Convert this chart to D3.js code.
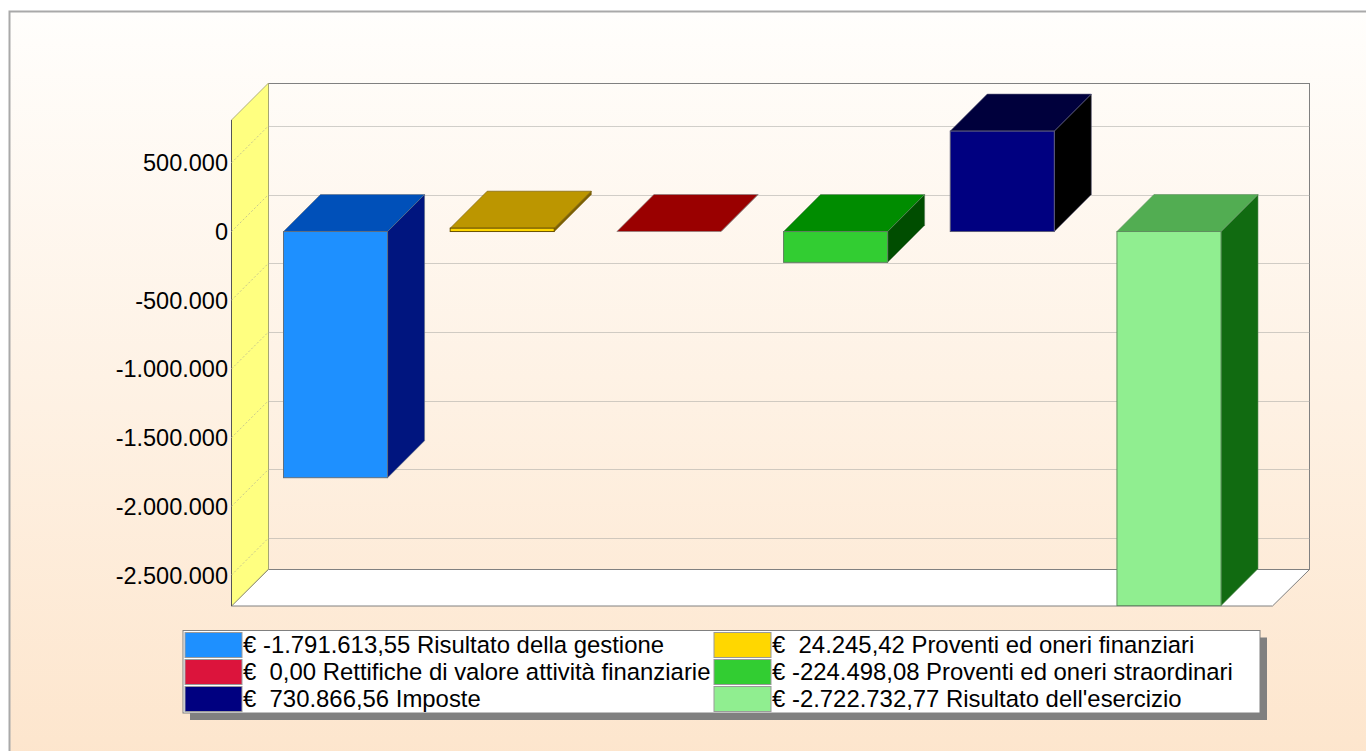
<!DOCTYPE html>
<html>
<head>
<meta charset="utf-8">
<style>
  html, body { margin: 0; padding: 0; background: #fff; overflow: hidden; }
  svg { display: block; }
  text { font-family: "Liberation Sans", Arial, sans-serif; fill: #000; white-space: pre; }
</style>
<script src="https://cdn.jsdelivr.net/npm/d3@7"></script>
</head>
<body>
<svg id="chart" width="1366" height="751"></svg>
<script>
'use strict';

const categories = [
  'Risultato della gestione',
  'Proventi ed oneri finanziari',
  'Rettifiche di valore attività finanziarie',
  'Proventi ed oneri straordinari',
  'Imposte',
  "Risultato dell'esercizio"
];
const values = [-1791613.55, 24245.42, 0, -224498.08, 730866.56, -2722732.77];
const frontColors = ['#1e90ff', '#ffd700', '#dc143c', '#32cd32', '#000080', '#90ee90'];
const topColors = ['#0050b9', '#bc9600', '#9a0000', '#008c00', '#00003c', '#52ad52'];
const sideColors = ['#00157f', '#7d6000', '#6e0000', '#004d00', '#000000', '#116b11'];
const edgeColors = ['#5f6f80', '#6b5200', '#808080', '#5f7f5f', '#5a5a78', '#5f8f5f'];
const yTicks = [500000, 0, -500000, -1000000, -1500000, -2000000, -2500000];
const yDomain = [-2729000, 808000];

const DEPTH = 37;
const WALL_LEFT = 231.5;
const WALL_RIGHT = 1272.5;
const WALL_TOP = 120;
const WALL_BOTTOM = 606;

const it = d3.formatLocale({decimal: ',', thousands: '.', grouping: [3], currency: ['€', ''], minus: '-'});
const fmtTick = it.format(',d');
const fmtAmount = it.format(',.2f');

const svg = d3.select('#chart');
const defs = svg.append('defs');

const bgGrad = defs.append('linearGradient')
  .attr('id', 'bg')
  .attr('x1', 0).attr('y1', 0).attr('x2', 0).attr('y2', 1);
bgGrad.append('stop').attr('offset', '0%').attr('stop-color', '#fffefc');
bgGrad.append('stop').attr('offset', '100%').attr('stop-color', '#fde5cc');

// page panel, its right and bottom edge fall outside of the picture
svg.append('rect')
  .attr('x', 9.5).attr('y', 11.5)
  .attr('width', 1400).attr('height', 760)
  .attr('fill', 'url(#bg)')
  .attr('stroke', '#a9a9a9')
  .attr('stroke-width', 2);

const y = d3.scaleLinear().domain(yDomain).range([WALL_BOTTOM + 0.5, WALL_TOP + 0.5]);
const x = d3.scaleBand()
  .domain(categories)
  .range([283.5, 1221])
  .paddingInner(0.3758)
  .paddingOuter(0);

function poly(points) {
  return points.map(p => p.join(',')).join(' ');
}

const scene = svg.append('g');

// back wall
scene.append('rect')
  .attr('x', WALL_LEFT + DEPTH).attr('y', WALL_TOP - DEPTH + 0.5)
  .attr('width', WALL_RIGHT - WALL_LEFT)
  .attr('height', WALL_BOTTOM - WALL_TOP)
  .attr('fill', 'none')
  .attr('stroke', '#808080');

// floor
scene.append('polygon')
  .attr('points', poly([
    [WALL_LEFT, WALL_BOTTOM],
    [WALL_LEFT + DEPTH, WALL_BOTTOM - DEPTH + 0.5],
    [WALL_RIGHT + DEPTH, WALL_BOTTOM - DEPTH + 0.5],
    [WALL_RIGHT, WALL_BOTTOM]
  ]))
  .attr('fill', '#fff')
  .attr('stroke', '#808080');

// side wall
scene.append('polygon')
  .attr('points', poly([
    [WALL_LEFT, WALL_TOP],
    [WALL_LEFT + DEPTH, WALL_TOP - DEPTH],
    [WALL_LEFT + DEPTH, WALL_BOTTOM - DEPTH],
    [WALL_LEFT, WALL_BOTTOM]
  ]))
  .attr('fill', '#ffff80')
  .attr('stroke', '#a0a070')
  .attr('stroke-width', 0.8);
scene.append('line')
  .attr('x1', WALL_LEFT).attr('x2', WALL_LEFT)
  .attr('y1', WALL_TOP).attr('y2', WALL_BOTTOM)
  .attr('stroke', '#555');

// grid, runs along the side wall and then the back wall
const grid = scene.append('g').selectAll('g').data(yTicks).join('g');
grid.append('line')
  .attr('x1', WALL_LEFT).attr('x2', WALL_LEFT + DEPTH)
  .attr('y1', d => y(d)).attr('y2', d => y(d) - DEPTH)
  .attr('stroke', '#c8c88e')
  .attr('stroke-dasharray', '2,2');
grid.append('line')
  .attr('x1', WALL_LEFT + DEPTH).attr('x2', WALL_RIGHT + DEPTH)
  .attr('y1', d => Math.round(y(d) - DEPTH) + 0.5).attr('y2', d => Math.round(y(d) - DEPTH) + 0.5)
  .attr('stroke', '#a2a29e')
  .attr('stroke-dasharray', '1,1');

// axis labels
const axis = d3.axisLeft(y)
  .tickValues(yTicks)
  .tickFormat(d => fmtTick(d))
  .tickSize(0)
  .tickPadding(3);
const axisG = svg.append('g')
  .attr('transform', `translate(${WALL_LEFT - 0.5},0.5)`)
  .call(axis);
axisG.select('.domain').remove();
axisG.selectAll('text')
  .attr('font-family', '"Liberation Sans", Arial, sans-serif')
  .attr('font-size', 23.5);

// bars, 3 faces each
const bars = svg.append('g').selectAll('g').data(categories).join('g');

bars.each(function(cat, i) {
  const g = d3.select(this);
  const x0 = x(cat);
  const x1 = x0 + x.bandwidth();
  const yTop = y(Math.max(values[i], 0));
  const yBottom = y(Math.min(values[i], 0));

  g.append('polygon')
    .attr('points', poly([
      [x1, yTop], [x1 + DEPTH, yTop - DEPTH],
      [x1 + DEPTH, yBottom - DEPTH], [x1, yBottom]
    ]))
    .attr('fill', sideColors[i])
    .attr('stroke', edgeColors[i])
    .attr('stroke-width', 0.6);
  g.append('polygon')
    .attr('points', poly([
      [x0, yTop], [x0 + DEPTH, yTop - DEPTH],
      [x1 + DEPTH, yTop - DEPTH], [x1, yTop]
    ]))
    .attr('fill', topColors[i])
    .attr('stroke', edgeColors[i])
    .attr('stroke-width', 0.6);
  g.append('rect')
    .attr('x', x0).attr('y', yTop)
    .attr('width', x1 - x0).attr('height', yBottom - yTop)
    .attr('fill', frontColors[i])
    .attr('stroke', edgeColors[i]);
});

// legend
const legendOrigin = {x: 183, y: 630.5, width: 1077, height: 82.5};
const legendCols = [185, 714];
const legendRows = [632.5, 659.5, 686.5];
const SWATCH_W = 57;
const SWATCH_H = 25;

const legend = svg.append('g');
legend.append('rect')
  .attr('x', legendOrigin.x + 7).attr('y', legendOrigin.y + 7)
  .attr('width', legendOrigin.width).attr('height', legendOrigin.height)
  .attr('fill', '#808080');
legend.append('rect')
  .attr('x', legendOrigin.x).attr('y', legendOrigin.y)
  .attr('width', legendOrigin.width).attr('height', legendOrigin.height)
  .attr('fill', '#fff')
  .attr('stroke', '#808080');

const items = legend.selectAll('g').data(categories).join('g')
  .attr('transform', (d, i) => `translate(${legendCols[i % 2]},${legendRows[Math.floor(i / 2)]})`);
items.append('rect')
  .attr('width', SWATCH_W).attr('height', SWATCH_H)
  .attr('fill', (d, i) => frontColors[i])
  .attr('stroke', '#9a9a9a');
items.append('text')
  .attr('x', SWATCH_W + 1)
  .attr('y', 20)
  .attr('font-size', 23.9)
  .text((d, i) => `€ ${values[i] < 0 ? '' : ' '}${fmtAmount(values[i])} ${d}`);
</script>
</body>
</html>
